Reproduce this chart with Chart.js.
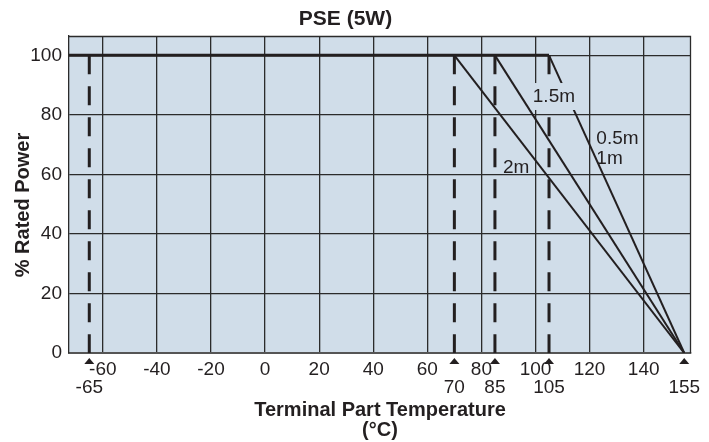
<!DOCTYPE html>
<html>
<head>
<meta charset="utf-8">
<script src="https://cdn.jsdelivr.net/npm/chart.js@4.4.1/dist/chart.umd.min.js"></script>
<style>
  html, body { margin: 0; padding: 0; background: #fff; }
  #wrap { width: 709px; height: 442px; }
</style>
</head>
<body>
<div id="wrap"><canvas id="chart"></canvas></div>
<script>
// temperatures (°C) and % rated power
const xMin = -72.5
const xMax = 157.5
const ratedPower = 100
const flatEnd = 105
const slopeStarts = [70, 85, 105]
const slopeEnd = 155
const dashTemps = [-65, 70, 85, 105]
const markTemps = [-65, 70, 85, 105, 155]
const curveLabels = [
  {text: '1.5m', x: 99, y: 86, mask: true},
  {text: '0.5m', x: 122.5, y: 72},
  {text: '1m', x: 122.5, y: 65.3},
  {text: '2m', x: 88, y: 62.3}
]

const FONT = "'Liberation Sans', Arial, Helvetica, sans-serif"
const BG = '#d0dde9'
const INK = '#231f20'
const GRID = '#2b2b2b'

const datasets = []
datasets.push({
  data: [{x: xMin, y: ratedPower}, {x: flatEnd, y: ratedPower}],
  borderColor: INK, borderWidth: 3
})
slopeStarts.forEach(t => datasets.push({
  data: [{x: t, y: ratedPower}, {x: slopeEnd, y: 0}],
  borderColor: INK, borderWidth: 2
}))
dashTemps.forEach(t => datasets.push({
  data: [{x: t, y: ratedPower}, {x: t, y: 0}],
  borderColor: INK, borderWidth: 3, borderDash: [19, 12]
}))

const decor = {
  id: 'decor',
  beforeDraw(chart) {
    const {ctx, chartArea: a} = chart
    ctx.save()
    ctx.fillStyle = BG
    ctx.fillRect(a.left, a.top, a.right - a.left, a.bottom - a.top)
    ctx.restore()
  },
  afterDatasetsDraw(chart) {
    const {ctx, chartArea: a, scales: {x, y}} = chart
    ctx.save()
    // frame top / right
    ctx.strokeStyle = GRID
    ctx.lineWidth = 1.3
    ctx.beginPath()
    ctx.moveTo(a.left, a.top + 0.5)
    ctx.lineTo(a.right - 0.5, a.top + 0.5)
    ctx.lineTo(a.right - 0.5, a.bottom)
    ctx.stroke()

    // curve labels
    ctx.font = `19px ${FONT}`
    ctx.textBaseline = 'middle'
    ctx.textAlign = 'left'
    curveLabels.forEach(l => {
      const px = x.getPixelForValue(l.x)
      const py = y.getPixelForValue(l.y)
      const w = ctx.measureText(l.text).width
      if (l.mask) {
        ctx.fillStyle = BG
        ctx.fillRect(px - 2, py - 14, w + 3, 27)
      }
      ctx.fillStyle = INK
      ctx.fillText(l.text, px, py)
    })

    // triangles and second row of labels
    ctx.textAlign = 'center'
    markTemps.forEach(t => {
      const px = x.getPixelForValue(t)
      ctx.fillStyle = INK
      ctx.beginPath()
      ctx.moveTo(px, a.bottom + 5)
      ctx.lineTo(px - 5, a.bottom + 11)
      ctx.lineTo(px + 5, a.bottom + 11)
      ctx.closePath()
      ctx.fill()
      ctx.fillText(String(t), px, a.bottom + 35)
    })

    // axis titles
    ctx.font = `bold 20px ${FONT}`
    ctx.fillText('Terminal Part Temperature', (a.left + a.right) / 2, 410)
    ctx.fillText('(°C)', (a.left + a.right) / 2, 430)
    ctx.translate(23, 205)
    ctx.rotate(-Math.PI / 2)
    ctx.fillText('% Rated Power', 0, 0)
    ctx.restore()
  }
}

new Chart(document.getElementById('chart'), {
  type: 'line',
  data: {datasets},
  options: {
    responsive: true,
    maintainAspectRatio: false,
    animation: false,
    events: [],
    layout: {padding: {left: 0, right: 18, top: 0, bottom: 0}},
    elements: {point: {radius: 0}, line: {tension: 0}},
    plugins: {
      legend: {display: false},
      tooltip: {enabled: false},
      title: {
        display: true,
        text: 'PSE (5W)',
        color: INK,
        font: {family: FONT, size: 21, weight: 'bold'},
        padding: {top: 6.4, bottom: 4.4}
      }
    },
    scales: {
      x: {
        type: 'linear',
        min: xMin,
        max: xMax,
        afterFit(scale) { scale.height = 89 },
        ticks: {stepSize: 20, includeBounds: false, color: INK, font: {family: FONT, size: 19}, padding: 5, maxRotation: 0},
        grid: {color: GRID, lineWidth: 1.3, drawTicks: false},
        border: {color: '#555', width: 2}
      },
      y: {
        min: 0,
        max: 106.5,
        afterFit(scale) { scale.width = 69 },
        ticks: {stepSize: 20, includeBounds: false, color: INK, font: {family: FONT, size: 19}, padding: 7},
        grid: {color: GRID, lineWidth: 1.3, drawTicks: false},
        border: {color: GRID, width: 1.3}
      }
    }
  },
  plugins: [decor]
})
</script>
</body>
</html>
